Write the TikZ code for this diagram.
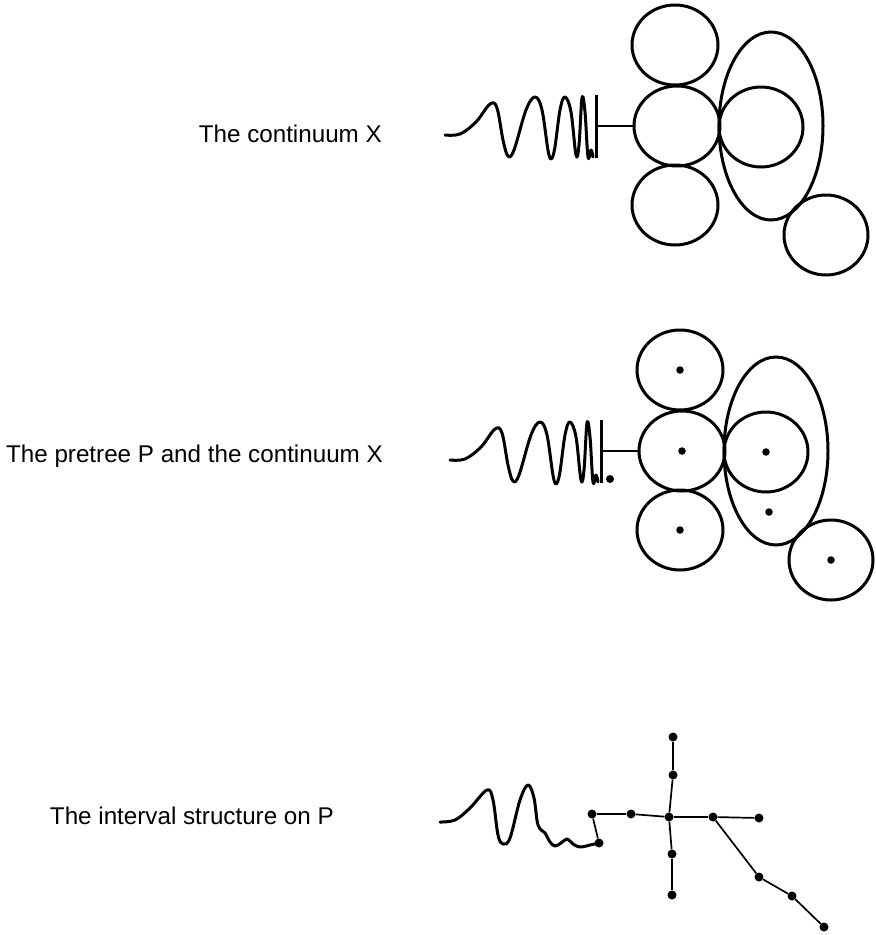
\documentclass[tikz,border=0pt]{standalone}
\usepackage{fontspec}
\setmainfont{Liberation Sans}
\usetikzlibrary{shapes.geometric, positioning}
\tikzset{>=latex}
\tikzset{blob/.style={draw, ellipse, line width=3pt, inner sep=0pt}}
\tikzset{dot/.style={circle, fill=black, inner sep=0pt, minimum size=#1},
  dot/.default=9pt}
\tikzset{caption/.style={anchor=base east, inner sep=0pt,
    font=\fontsize{24.2}{28}\selectfont}}
\tikzset{wire/.style={line width=3pt, line join=round, line cap=round}}
\tikzset{edge/.style={line width=1.7pt}}

% the continuum X, #1 = prefix of the node names
\newcommand{\continuum}[1]{%
  \node[blob, minimum width=86pt, minimum height=80pt] (#1up) at (675,45) {};
  \node[blob, minimum width=86pt, minimum height=80pt] (#1mid) at (677,126) {};
  \node[blob, minimum width=86pt, minimum height=80pt] (#1low) at (675,205) {};
  \node[blob, minimum width=104pt, minimum height=188pt] (#1egg) at (771,126) {};
  \node[blob, minimum width=84pt, minimum height=80pt] (#1in) at (761,127) {};
  \node[blob, minimum width=84pt, minimum height=80pt] (#1out) at (826,235) {};
  % topologist's sine curve
  \draw[wire] plot[smooth, tension=0.6] coordinates {(445,135) (460,134)
    (476,122) (490,104) (497,108) (503,140) (508,156) (514,150) (526,110)
    (535,97) (542,110) (549,155) (554,152) (560,110) (565,97) (571,112)
    (576,155) (579,145) (582,98) (585,112) (588,157) (591,150) (593,157)};
  \draw[line width=3pt] (596,95) -- (596,158);
  \coordinate (#1bar) at (596,126);
  \draw[line width=2.6pt] (#1bar) -- (#1mid);
}

\begin{document}
\begin{tikzpicture}[x=1pt, y=-1pt]
  \useasboundingbox (0,0) rectangle (876,935);

  % first picture
  \node[caption] (capX) at (382,142) {The continuum X};
  \continuum{a}

  % second picture
  \node[caption] (capP) at (383,462) {The pretree P and the continuum X};
  \begin{scope}[shift={(5,325)}]
    \continuum{b}
    \foreach \c in {bup, bmid, blow, bin, bout}
      \node[dot=7.5pt] at (\c.center) {};
    \node[dot=7.5pt] (begg dot) at (764,187) {};
    \node[dot=8pt] (bbar dot) at (605,154) {};
  \end{scope}

  % third picture
  \node[caption] (capI) at (334,824) {The interval structure on P};
  \node[dot] (pA) at (599,843) {};
  \node[dot] (pB) at (592,814) {};
  \node[dot] (pC) at (631,814) {};
  \node[dot] (pD) at (669,817) {};
  \node[dot] (pE) at (713,817) {};
  \node[dot] (pF) at (759,818) {};
  \node[dot] (pG) at (673,775) {};
  \node[dot] (pH) at (673,737) {};
  \node[dot] (pI) at (672,854) {};
  \node[dot] (pJ) at (672,895) {};
  \node[dot] (pK) at (759,877) {};
  \node[dot] (pL) at (792,896) {};
  \node[dot] (pM) at (824,927) {};
  \draw[wire] plot[smooth, tension=0.6] coordinates {(440,822) (455,820)
    (470,808) (487,790) (493,800) (498,835) (503,844) (510,838) (520,800)
    (528,785) (534,798) (538,825) (545,833) (550,842) (555,846) (561,843)
    (567,839) (573,844) (580,847) (590,845)} -- (pA.center);
  \draw[edge] (pA) -- (pB);
  \draw[line width=2.8pt] (pB) -- (pC);
  \draw[edge] (pC) -- (pD);
  \draw[edge] (pD) -- (pE);
  \draw[edge] (pE) -- (pF);
  \draw[edge] (pD) -- (pG);
  \draw[edge] (pG) -- (pH);
  \draw[edge] (pD) -- (pI);
  \draw[edge] (pI) -- (pJ);
  \draw[edge] (pE) -- (pK);
  \draw[edge] (pK) -- (pL);
  \draw[edge] (pL) -- (pM);
\end{tikzpicture}
\end{document}
